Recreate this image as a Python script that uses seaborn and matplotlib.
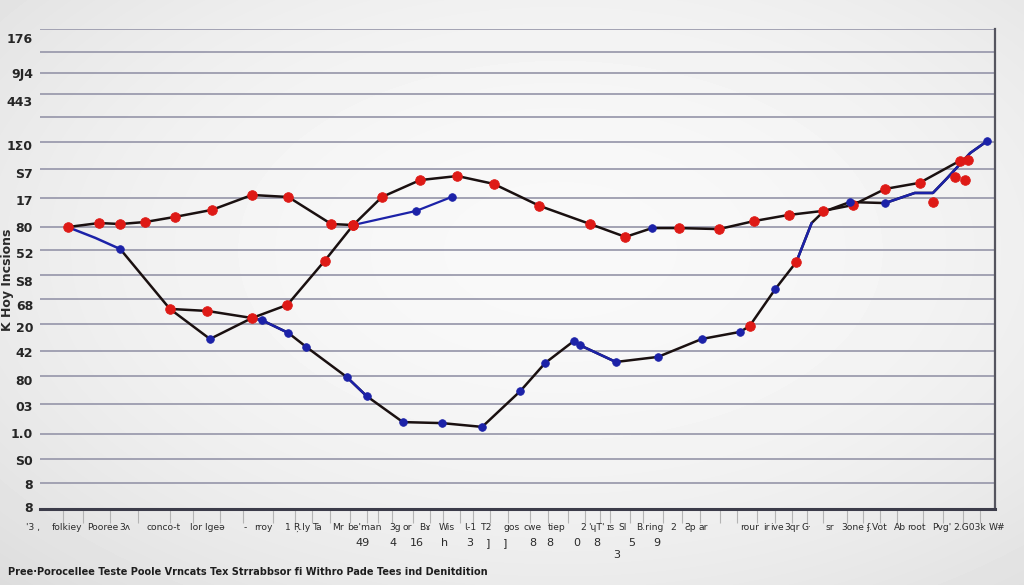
import numpy as np
import pandas as pd
import matplotlib
matplotlib.use("Agg")
import matplotlib.pyplot as plt
import seaborn as sns

sns.set_theme(style="white")
plt.rcParams['font.family'] = ['DejaVu Sans']

# ---------------- data (chart units) ----------------
# upper red-marker curve
l1_x = [2.9, 6.2, 8.4, 11.0, 14.1, 18.0, 22.2, 26.0, 30.5, 32.8]
l1_y = [11.16, 11.32, 11.28, 11.36, 11.56, 11.84, 12.43, 12.35, 11.28, 11.24]
# short blue continuation
l1b_x = [32.8, 39.4, 43.1]
l1b_y = [11.24, 11.80, 12.35]
# early descending branch
l2_x = [2.9, 5.8, 8.4, 13.6, 17.8, 22.2]
l2_y = [11.16, 10.73, 10.29, 7.92, 6.73, 7.56]
l2_mk = ['', '', 'b', '', 'b', '']
# arch curve
l3_x = [13.6, 17.5, 22.2, 25.9, 29.8, 32.8, 35.8, 39.8, 43.7, 47.5, 52.3, 57.6,
        61.3, 64.1, 66.9, 71.1, 74.8, 78.4, 82.0, 85.1, 88.5, 92.1, 96.3, 97.2]
l3_y = [7.92, 7.84, 7.56, 8.08, 9.82, 11.24, 12.35, 13.02, 13.18, 12.87, 12.00, 11.28,
        10.77, 11.12, 11.12, 11.08, 11.40, 11.64, 11.80, 12.03, 12.67, 12.91, 13.78, 13.82]
l3_mk = ['r'] * 13 + ['b'] + ['r'] * 10
# lower valley curve
l4_x = [22.2, 23.2, 26.0, 27.9, 32.1, 34.2, 38.0, 42.1, 46.3, 50.3, 52.9, 55.9, 56.5,
        60.3, 64.7, 69.3, 73.3, 74.3, 77.0, 79.2, 80.8, 82.0, 84.8, 88.5, 91.6, 93.5,
        95.0, 97.4, 99.2]
l4_y = [7.56, 7.48, 6.97, 6.41, 5.23, 4.47, 3.44, 3.40, 3.25, 4.67, 5.78, 6.65, 6.49,
        5.82, 6.02, 6.73, 7.01, 7.24, 8.71, 9.78, 11.32, 11.76, 12.15, 12.11, 12.51, 12.51,
        13.10, 14.09, 14.57]
l4_mk = ['', 'b', 'b', 'b', 'b', 'b', 'b', 'b', 'b', 'b', 'b', 'b', 'b', 'b', 'b', 'b',
         'b', 'r', 'b', 'r', '', '', 'b', 'b', '', '', '', '', 'b']
# stray red points top right
ex_x = [95.8, 96.9, 93.5]
ex_y = [13.14, 13.02, 12.15]

y_tick_labels = ["8", "8", "S0", "1.0", "03", "80", "42", "20", "68", "S8", "52",
                 "80", "17", "S7", "1\u03a30", "443", "9J4", "176"]
x_words = ["'3 ,", "folkiey", "Pooree", "3\u028c", "conco-t", "lor lge\u01dd", "-", "rroy",
           "1", "\u0156.ly", "Ta", "Mr", "be'man", "3g", "or", "B\u0264", "Wis", "\u0196-1",
           "T2", "gos", "cwe", "tiep", "2", "'\u0265T'", "\u026as", "SI", "B.ring", "2",
           "\u01a7p", "ar", "rour", "ir", "ive", "3qr", "G\u00b7", "sr", "3one",
           "\u0284.Vot", "Ab", "root", "Pvg'", "2.G03k", "W#"]
x_nums = ["49", "4", "16", "h", "3", "]", "]", "8", "8", "0", "8", "3", "5", "9"]
y_title = "K Hoy Incsions"
footer = "Pree\u00b7Porocellee Teste Poole Vrncats Tex Strrabbsor fi Withro Pade Tees ind Denitdition"

# ---------------- layout ----------------
W, H = 1024, 585
fig = plt.figure(figsize=(W / 100, H / 100), dpi=100)

# vignette background
bg = fig.add_axes([0, 0, 1, 1])
bg.axis('off')
yy, xx = np.mgrid[0:H, 0:W]
r2 = ((xx - 560) / 680.0) ** 2 + ((yy - 250) / 400.0) ** 2
img = np.clip(0.975 - 0.08 * r2, 0.80, 1.0)
bg.imshow(img, cmap='gray', vmin=0, vmax=1, aspect='auto', interpolation='bilinear')

ax = fig.add_axes([40 / W, 1 - 509 / H, 955 / W, 480 / H])
ax.set_facecolor('none')
ax.set_xlim(0, 100)
ax.set_ylim(0, 19)

grid_vals = [1.03, 1.98, 2.97, 4.16, 5.27, 6.25, 7.32, 8.31, 9.26, 10.25, 11.16, 12.31,
             13.46, 14.53, 15.52, 16.43, 17.26, 18.09, 19.0]
for g in grid_vals:
    ax.axhline(g, color='#9c9cae', lw=1.3, zorder=0)

label_pos = [0.08, 0.99, 1.94, 3.01, 4.08, 5.11, 6.21, 7.20, 8.08, 9.03, 10.13, 11.16,
             12.23, 13.30, 14.41, 16.15, 17.26, 18.65]
ax.set_yticks(label_pos)
ax.set_yticklabels(y_tick_labels, fontsize=9, color='#262626', fontweight='semibold')
ax.tick_params(axis='y', length=0, pad=5)

# x tick marks
tick_marks = [2.4, 4.5, 7.3, 10.3, 13.6, 16.0, 18.8, 21.3, 24.4, 26.7, 28.5, 30.4, 32.5,
              34.2, 35.4, 36.9, 39.1, 40.8, 42.2, 44.0, 45.3, 47.1, 49.0, 51.3, 53.2,
              55.3, 57.1, 58.6, 59.7, 61.8, 63.1, 65.2, 67.2, 69.1, 71.2, 73.0, 75.1,
              77.0, 78.7, 80.3, 82.0, 84.5, 86.2, 88.0, 89.7, 92.5, 94.6, 96.6, 98.4]
ax.set_xticks(tick_marks)
ax.set_xticklabels([])
ax.tick_params(axis='x', length=10, width=0.8, color='#b4b4b4', direction='out', bottom=True)

word_pos = [-0.7, 2.8, 6.6, 8.9, 12.9, 17.5, 21.5, 23.4, 25.9, 27.4, 29.1, 31.2, 34.0,
            37.2, 38.5, 40.3, 42.6, 45.0, 46.8, 49.4, 51.6, 54.1, 56.9, 58.3, 59.7, 61.0,
            63.9, 66.3, 68.1, 69.4, 74.3, 76.1, 77.2, 78.8, 80.3, 82.7, 85.1, 87.6, 90.1,
            91.8, 94.4, 97.3, 100.2]
tr = ax.get_xaxis_transform()
for p, w in zip(word_pos, x_words):
    ax.text(p, -0.038, w, transform=tr, ha='center', va='center', fontsize=6.6,
            color='#2a2a2a', clip_on=False)
num_pos = [33.8, 37.0, 39.5, 42.4, 45.0, 46.9, 48.7, 51.6, 53.4, 56.2, 58.3, 60.4, 62.0, 64.6]
num_y = [-0.071] * 11 + [-0.096] + [-0.071] * 2
for p, n, yv in zip(num_pos, x_nums, num_y):
    ax.text(p, yv, n, transform=tr, ha='center', va='center', fontsize=8,
            color='#2a2a2a', clip_on=False)

for s in ['top', 'left']:
    ax.spines[s].set_visible(False)
ax.spines['bottom'].set_color('#3c3c4a')
ax.spines['bottom'].set_linewidth(2.2)
ax.spines['right'].set_color('#55555f')
ax.spines['right'].set_linewidth(1.6)

BLACK = '#1a1010'
BLUE = '#1c22a8'
RED = '#de1a16'
pal = {'r': RED, 'b': BLUE}
kw = dict(sort=False, estimator=None, legend=False)

# lines
sns.lineplot(x=l1_x, y=l1_y, color=BLACK, lw=1.8, ax=ax, zorder=3, **kw)
sns.lineplot(x=l1b_x, y=l1b_y, color=BLUE, lw=1.6, ax=ax, zorder=3, **kw)
sns.lineplot(x=l2_x[2:], y=l2_y[2:], color=BLACK, lw=1.8, ax=ax, zorder=3, **kw)
sns.lineplot(x=l2_x[:3], y=l2_y[:3], color=BLUE, lw=1.8, ax=ax, zorder=3, **kw)
sns.lineplot(x=l3_x, y=l3_y, color=BLACK, lw=1.8, ax=ax, zorder=3, **kw)
sns.lineplot(x=l4_x, y=l4_y, color=BLACK, lw=1.8, ax=ax, zorder=3, **kw)
for a, b in [(0, 2), (4, 5), (11, 13), (19, 20), (23, 28)]:
    sns.lineplot(x=l4_x[a:b + 1], y=l4_y[a:b + 1], color=BLUE, lw=1.8, ax=ax, zorder=4, **kw)

# markers
def marks(xs, ys, codes):
    df = pd.DataFrame({'x': xs, 'y': ys, 'c': codes})
    df = df[df.c != '']
    for c, sz in [('r', 48), ('b', 30)]:
        d = df[df.c == c]
        if len(d):
            sns.scatterplot(data=d, x='x', y='y', color=pal[c], s=sz, edgecolor=pal[c],
                            linewidth=0.6, ax=ax, zorder=5, legend=False)

marks(l1_x, l1_y, ['r'] * len(l1_x))
marks(l1b_x[1:], l1b_y[1:], ['b', 'b'])
marks(l2_x, l2_y, l2_mk)
marks(l3_x, l3_y, l3_mk)
marks(l4_x, l4_y, l4_mk)
marks(ex_x, ex_y, ['r'] * len(ex_x))

ax.set_xlabel('')
ax.set_ylabel('')
fig.text(8 / W, 1 - 280 / H, y_title, rotation=90, ha='center', va='center',
         fontsize=9, color='#2a2a2a', fontweight='bold')
fig.text(8 / W, 1 - 572 / H, footer, ha='left', va='center', fontsize=7,
         color='#1e1e1e', fontweight='bold')

fig.savefig('out.png', dpi=100)
